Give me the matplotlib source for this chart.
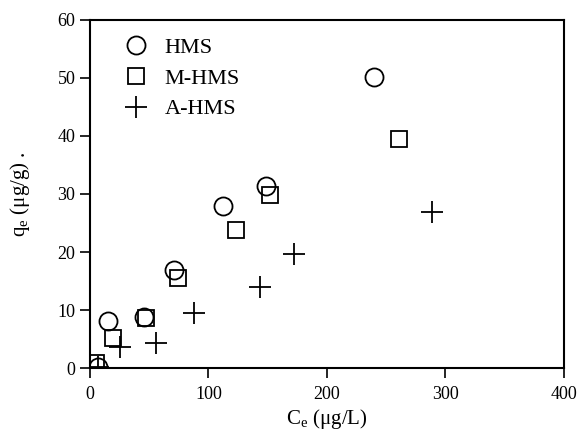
import matplotlib.pyplot as plt

plt.rcParams['font.family'] = ['Liberation Serif', 'DejaVu Serif']
plt.rcParams['mathtext.fontset'] = 'custom'
plt.rcParams['mathtext.rm'] = 'Liberation Serif'

# Data
hms_x = [6.7, 15.2, 45.6, 70.9, 112, 148.5, 239.7]
hms_y = [0.2, 8.1, 8.8, 16.9, 27.9, 31.4, 50.2]

mhms_x = [5, 19.4, 47, 74, 123, 152, 261]
mhms_y = [0.9, 5.2, 8.6, 15.5, 23.8, 29.8, 39.5]

ahms_x = [6.7, 25.3, 55.7, 87.8, 143.5, 172, 288.6]
ahms_y = [0.1, 3.6, 4.3, 9.5, 14, 19.7, 26.9]

fig = plt.figure(figsize=(5.8, 4.33), dpi=100)
ax = fig.add_axes([0.155, 0.150, 0.817, 0.804])

ax.plot(hms_x, hms_y, 'o', mfc='none', mec='black', ms=13, mew=1.3, label='HMS')
ax.plot(mhms_x, mhms_y, 's', mfc='none', mec='black', ms=12, mew=1.3, label='M-HMS')
ax.plot(ahms_x, ahms_y, '+', color='black', ms=16, mew=1.3, label='A-HMS')

ax.set_xlim(0, 400)
ax.set_ylim(0, 60)
ax.set_xticks([0, 100, 200, 300, 400])
ax.tick_params(direction='out', length=7, width=1.2, labelsize=13, top=False, right=False)
ax.tick_params(axis='x', pad=6)
for s in ax.spines.values():
    s.set_linewidth(1.5)

ax.set_xlabel('C$_\\mathrm{e}$ (μg/L)', fontsize=15, labelpad=3)
ax.set_ylabel('q$_\\mathrm{e}$ (μg/g) .', fontsize=15, labelpad=18)

ax.legend(loc='upper left', bbox_to_anchor=(0.012, 1.0), frameon=False, fontsize=16,
          handletextpad=0.3, labelspacing=0.45, borderaxespad=0.4)

fig.savefig('out.png', dpi=100)
